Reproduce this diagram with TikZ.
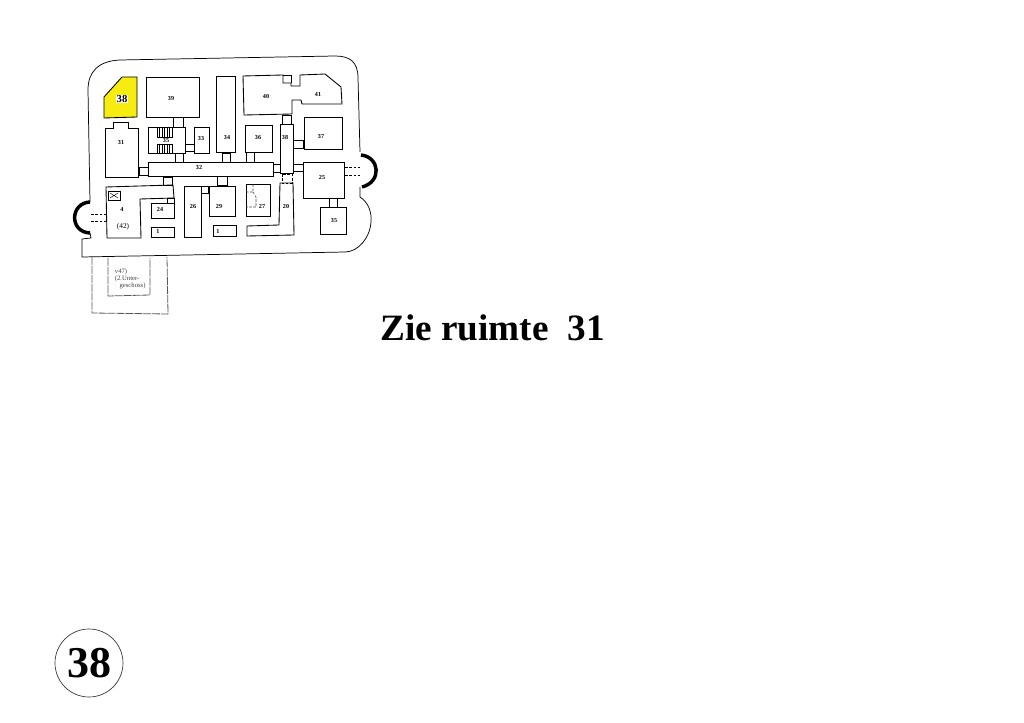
\documentclass[tikz,border=0pt]{standalone}
\usepackage{fontspec}
\setmainfont{Liberation Serif}
\definecolor{roomyellow}{RGB}{247,236,16}
\tikzset{
  wall/.style={draw=black,line width=0.65pt,line join=miter},
  thinwall/.style={draw=black,line width=0.55pt},
  stairline/.style={draw=black,line width=0.35pt},
  doorway/.style={draw=black,line width=0.55pt},
  dashdoor/.style={draw=black,line width=0.5pt,dash pattern={on 2pt off 1.2pt}},
  sketchline/.style={draw=black!70,line width=0.4pt,dash pattern={on 2pt off 1pt}},
  shadow/.style={draw=black!65,line width=0.6pt,dash pattern={on 6pt off 0.7pt}},
  stairbulge/.style={draw=black,line width=2.6pt},
  roomlabel/.style={inner sep=0.5pt,font=\bfseries\fontsize{4.6}{4.6}\selectfont},
  smalllabel/.style={inner sep=0.5pt,text=black!75,font=\fontsize{5}{5.3}\selectfont,align=left}
}
\begin{document}
\begin{tikzpicture}[x=0.75pt,y=0.75pt,yscale=-1,xscale=1]
\useasboundingbox (0,0) rectangle (1024,723);

% outer wall
\draw[thinwall] (90,202) -- (88,90) .. controls (88,72) and (98,61) .. (120,60) -- (335,56) .. controls (350,56) and (358,62) .. (358,78) -- (360,152);
\draw[thinwall] (360,187) -- (360,197) .. controls (368,202) and (372,212) .. (371,222) .. controls (370,238) and (358,252) .. (345,252) -- (82,257) -- (82,239) -- (91,238) -- (90,233);
% stair bulges
\draw[stairbulge] (90,202) .. controls (70,203) and (69,232) .. (90,233);
\draw[stairbulge] (361,155) .. controls (380,157) and (382,182) .. (362,187);
\draw[dashdoor] (91,214) -- (106,214) (91,221) -- (106,221);
\draw[dashdoor] (345,167) -- (360,167) (345,175) -- (360,175);

% lower floor
\draw[shadow] (92,257) -- (92,313) -- (168,314) -- (167,257);
\draw[shadow] (108,258) -- (108,296) -- (150,295) -- (150,258);

% rooms
\draw[wall,fill=roomyellow] (122,77) -- (137,77) -- (137,117) -- (104,118) -- (104,97) -- cycle;
\draw[wall] (146,77) rectangle (199,117);
\draw[wall] (105,128) -- (113,128) -- (113,122) -- (128,122) -- (128,128) -- (138,128) -- (138,177) -- (105,177) -- cycle;
\draw[wall] (148,127) rectangle (185,153);
\draw[wall] (194,127) rectangle (209,153);
\draw[wall] (216,76) rectangle (235,152);
\draw[wall] (148,162) rectangle (273,176);
\draw[wall] (245,125) rectangle (272,152);
\draw[wall] (243,76) -- (283,75) -- (283,83) -- (291,83) -- (291,86) -- (300,86) -- (300,75) -- (325,74) -- (341,87) -- (342,104) -- (302,104) -- (301,100) -- (292,100) -- (292,114) -- (244,115) -- cycle;
\draw[wall] (283,75) -- (291,75) -- (291,83);
\draw[wall] (280,124) rectangle (293,173);
\draw[wall] (304,117) rectangle (342,149);
\draw[wall] (303,162) rectangle (344,198);
\draw[wall] (320,207) rectangle (346,234);
\draw[wall] (280,183) -- (293,183) -- (294,235) -- (247,236) -- (247,226) -- (279,225) -- cycle;
\draw[wall] (246,184) rectangle (270,216);
\draw[wall] (209,186) rectangle (235,216);
\draw[wall] (184,186) rectangle (201,237);
\draw[wall] (106,187) -- (173,185) -- (174,198) -- (140,199) -- (141,238) -- (107,238) -- cycle;
\draw[wall] (151,203) rectangle (174,218);
\draw[wall] (151,227) rectangle (174,237);
\draw[wall] (213,225) rectangle (236,236);

% door ways
\foreach \xa/\ya/\xb/\yb in {173/117/183/127,185/144/194/151,139/167/148/175,175/153/183/162,222/153/230/162,246/152/254/162,282/115/291/124,293/140/303/148,293/164/303/171,273/164/280/172,329/198/337/207,163/177/172/185,217/176/227/185,201/186/208/193,167/198/174/203}
  \draw[doorway] (\xa,\ya) rectangle (\xb,\yb);
\draw[dashdoor] (282,174) rectangle (292,183);
\draw[sketchline] (246,192) -- (253,192) -- (253,184) (253,192) -- (256,197) -- (256,207) -- (246,207);

% stairs in 35
\foreach \xs in {157,159.5,...,173}
  \draw[stairline] (\xs,127) -- (\xs,137) (\xs,144) -- (\xs,153);
\draw[stairline] (157,137) -- (173,137) (157,144) -- (173,144);
% box in room 4
\draw[doorway] (108,191) rectangle (120,200);
\draw[stairline] (110,193) -- (118,198) (110,198) -- (118,193);

% labels
\node[roomlabel,font=\bfseries\fontsize{8}{8}\selectfont,fill=white,inner sep=0.3pt] (n38) at (122,99) {38};
\node[roomlabel] (n39) at (171,99) {39};
\node[roomlabel] (n31) at (121,143) {31};
\node[roomlabel] (n35) at (166,140.5) {35};
\node[roomlabel] (n33) at (201,139) {33};
\node[roomlabel] (n34) at (227,138) {34};
\node[roomlabel] (n32) at (199,168) {32};
\node[roomlabel] (n36) at (258,138) {36};
\node[roomlabel] (n38b) at (285,137) {38};
\node[roomlabel] (n40) at (266,96) {40};
\node[roomlabel] (n41) at (318,94) {41};
\node[roomlabel] (n37) at (321,137) {37};
\node[roomlabel] (n25) at (322,178) {25};
\node[roomlabel] (n35b) at (334,221) {35};
\node[roomlabel] (n20) at (286,206) {20};
\node[roomlabel] (n27) at (262,206) {27};
\node[roomlabel] (n29) at (219,207) {29};
\node[roomlabel] (n26) at (193,207) {26};
\node[roomlabel] (n24) at (160,209) {24};
\node[roomlabel] (n1a) at (158,231) {1};
\node[roomlabel] (n1b) at (218,231) {1};
\node[roomlabel] (n4) at (122,209) {4};
\node[roomlabel,font=\fontsize{5.5}{5.5}\selectfont] (n42) at (123,227) {(42)};
\node[smalllabel,anchor=west] (n47) at (114,279) {v47)\\ (2.Unter-\\ \hspace*{3.5pt}geschoss)};

% caption and number
\node[inner sep=0pt,font=\bfseries\fontsize{27.9}{28}\selectfont] (caption) at (492.5,328) {Zie ruimte\ \ 31};
\node[circle,draw=black!80,line width=0.5pt,minimum size=51pt,inner sep=0pt,font=\bfseries\fontsize{33}{33}\selectfont] (pagenr) at (89,663) {38};
\end{tikzpicture}
\end{document}
